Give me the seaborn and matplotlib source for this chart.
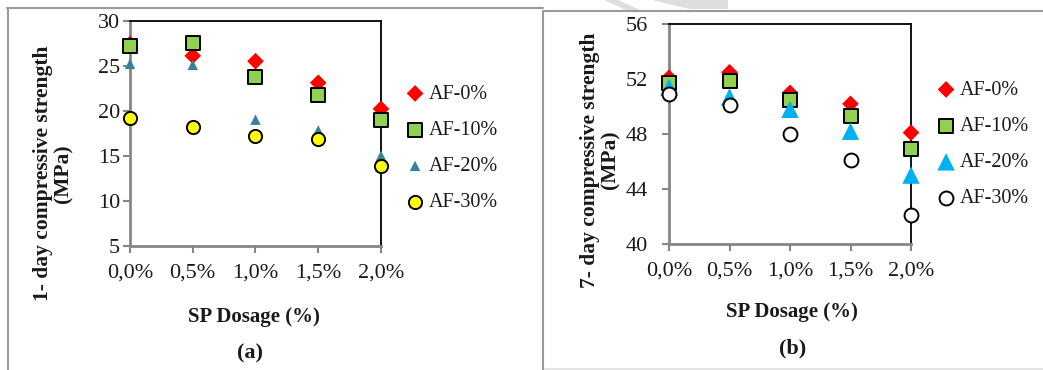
import matplotlib
matplotlib.use("Agg")
import matplotlib.pyplot as plt
import seaborn as sns
import pandas as pd
from matplotlib.patches import Polygon
from matplotlib.lines import Line2D

sns.set_theme(style="white")
plt.rcParams["font.family"] = ["Liberation Serif", "DejaVu Serif"]

# SP dosage (%) and tick labels
dosage = [0.0, 0.5, 1.0, 1.5, 2.0]
dosage_labels = ["0,0%", "0,5%", "1,0%", "1,5%", "2,0%"]
series = ["AF-0%", "AF-10%", "AF-20%", "AF-30%"]

# 1-day compressive strength (MPa)
day1_af0 = [27.4, 26.1, 25.5, 23.1, 20.2]
day1_af10 = [27.2, 27.5, 23.7, 21.7, 19.0]
day1_af20 = [25.2, 25.1, 19.0, 17.8, 15.0]
day1_af30 = [19.2, 18.2, 17.2, 16.8, 13.9]

# 7-day compressive strength (MPa)
day7_af0 = [52.1, 52.5, 51.0, 50.2, 48.1]
day7_af10 = [51.7, 51.9, 50.5, 49.3, 46.9]
day7_af20 = [51.4, 50.7, 49.8, 48.2, 45.0]
day7_af30 = [50.9, 50.1, 48.0, 46.1, 42.1]


def long_frame(values):
    rows = []
    for name, vals in zip(series, values):
        for d, v in zip(dosage, vals):
            rows.append({"dosage": d, "strength": v, "mix": name})
    return pd.DataFrame(rows)


df1 = long_frame([day1_af0, day1_af10, day1_af20, day1_af30])
df7 = long_frame([day7_af0, day7_af10, day7_af20, day7_af30])

styles_a = {
    "AF-0%": dict(marker="D", s=8.5**2, color="#FF0000", edgecolor="none", linewidth=0),
    "AF-10%": dict(marker="s", s=10.5**2, color="#92D050", edgecolor="black", linewidth=1.4),
    "AF-20%": dict(marker="^", s=7.5**2, color="#31849B", edgecolor="none", linewidth=0),
    "AF-30%": dict(marker="o", s=9.5**2, color="#FFFF00", edgecolor="black", linewidth=1.4),
}
styles_b = {
    "AF-0%": dict(marker="D", s=8.5**2, color="#FF0000", edgecolor="none", linewidth=0),
    "AF-10%": dict(marker="s", s=10.5**2, color="#92D050", edgecolor="black", linewidth=1.4),
    "AF-20%": dict(marker="^", s=12.5**2, color="#00B0F0", edgecolor="none", linewidth=0),
    "AF-30%": dict(marker="o", s=10**2, color="white", edgecolor="black", linewidth=1.4),
}

W, H = 1043, 370
fig = plt.figure(figsize=(W / 100, H / 100), dpi=100)


def px_axes(x0, x1, ytop, ybot):
    return fig.add_axes([x0 / W, 1 - ybot / H, (x1 - x0) / W, (ybot - ytop) / H])


ax1 = px_axes(130, 381, 20.7, 245.6)
ax2 = px_axes(669, 911, 24.3, 243.7)

GRAY = "#868686"
TXT = "#1a1a1a"


def draw_panel(ax, df, styles, ylim, yticks, ylabel, ypad, ylab_xy, xlab_xy, leg_xy):
    for name in series:
        st = styles[name]
        sns.scatterplot(data=df[df["mix"] == name], x="dosage", y="strength", ax=ax,
                        marker=st["marker"], s=st["s"], color=st["color"],
                        edgecolor=st["edgecolor"], linewidth=st["linewidth"],
                        label=name, clip_on=False, zorder=3)
    ax.set_xlim(0, 2)
    ax.set_ylim(*ylim)
    ax.set_xticks(dosage)
    ax.set_xticklabels(dosage_labels)
    ax.set_yticks(yticks)
    ax.tick_params(axis="x", direction="out", length=5, width=1.5, color=GRAY,
                   pad=8, labelsize=16, labelcolor=TXT, bottom=True)
    ax.tick_params(axis="y", direction="out", length=5, width=1.5, color=GRAY,
                   pad=ypad, labelsize=16, labelcolor=TXT, left=True)
    for side in ("left", "bottom"):
        ax.spines[side].set_color(GRAY)
        ax.spines[side].set_linewidth(2.0)
    for side in ("top", "right"):
        ax.spines[side].set_color("black")
        ax.spines[side].set_linewidth(1.3)
        ax.spines[side].set_visible(True)
    ax.set_ylabel(ylabel, fontsize=15.5, fontweight="bold", color=TXT, linespacing=1.0)
    ax.yaxis.set_label_coords(*ylab_xy)
    ax.set_xlabel("SP Dosage (%)", fontsize=15, fontweight="bold", color=TXT)
    ax.xaxis.set_label_coords(*xlab_xy)
    leg = ax.legend(loc="center left", bbox_to_anchor=(leg_xy[0] / W, 1 - leg_xy[1] / H),
                    bbox_transform=fig.transFigure, frameon=False, fontsize=14.5,
                    handlelength=0.9, handletextpad=0.25, labelspacing=0.85,
                    borderpad=0, borderaxespad=0, scatterpoints=1)
    for t in leg.get_texts():
        t.set_color(TXT)


draw_panel(ax1, df1, styles_a, (5, 30), [5, 10, 15, 20, 25, 30],
           "1- day compressive strength\n(MPa)", 2,
           (-0.227, 0.32), (0.494, -0.273), (406, 148.5))
draw_panel(ax2, df7, styles_b, (40, 56), [40, 44, 48, 52, 56],
           "7- day compressive strength\n(MPa)", 10,
           (-0.2025, 0.381), (0.508, -0.266), (937, 144.5))

# panel captions
fig.text(250 / W, 1 - 353 / H, "(a)", ha="center", va="center",
         fontsize=16, fontweight="bold", color=TXT)
fig.text(793 / W, 1 - 348 / H, "(b)", ha="center", va="center",
         fontsize=16, fontweight="bold", color=TXT)

# panel frames
frame_kw = dict(transform=fig.transFigure, color="#9a9a9a", linewidth=1.5, zorder=0)
fig.add_artist(Line2D([7 / W, 543 / W], [1 - 7.5 / H, 1 - 7.5 / H], **frame_kw))
fig.add_artist(Line2D([7.5 / W, 7.5 / W], [1 - 7.5 / H, 0], **frame_kw))
fig.add_artist(Line2D([543 / W, 1], [1 - 10.5 / H, 1 - 10.5 / H], **frame_kw))
fig.add_artist(Line2D([543 / W, 543 / W], [1 - 10.5 / H, 0], **frame_kw))
fig.add_artist(Line2D([545 / W, 1], [1 - 369 / H, 1 - 369 / H],
                      transform=fig.transFigure, color="#e4e4e4", linewidth=1.5, zorder=0))

# faint diagonal stripes along the top edge
for pts in ([(604, 0), (618, 0), (640, 10), (626, 10)],
            [(652, 0), (728, 0), (728, 9), (690, 9)]):
    fig.add_artist(Polygon([(x / W, 1 - y / H) for x, y in pts], closed=True,
                           transform=fig.transFigure, facecolor="#dedede",
                           edgecolor="none", zorder=0))

fig.savefig("out.png", dpi=100, facecolor="white")
